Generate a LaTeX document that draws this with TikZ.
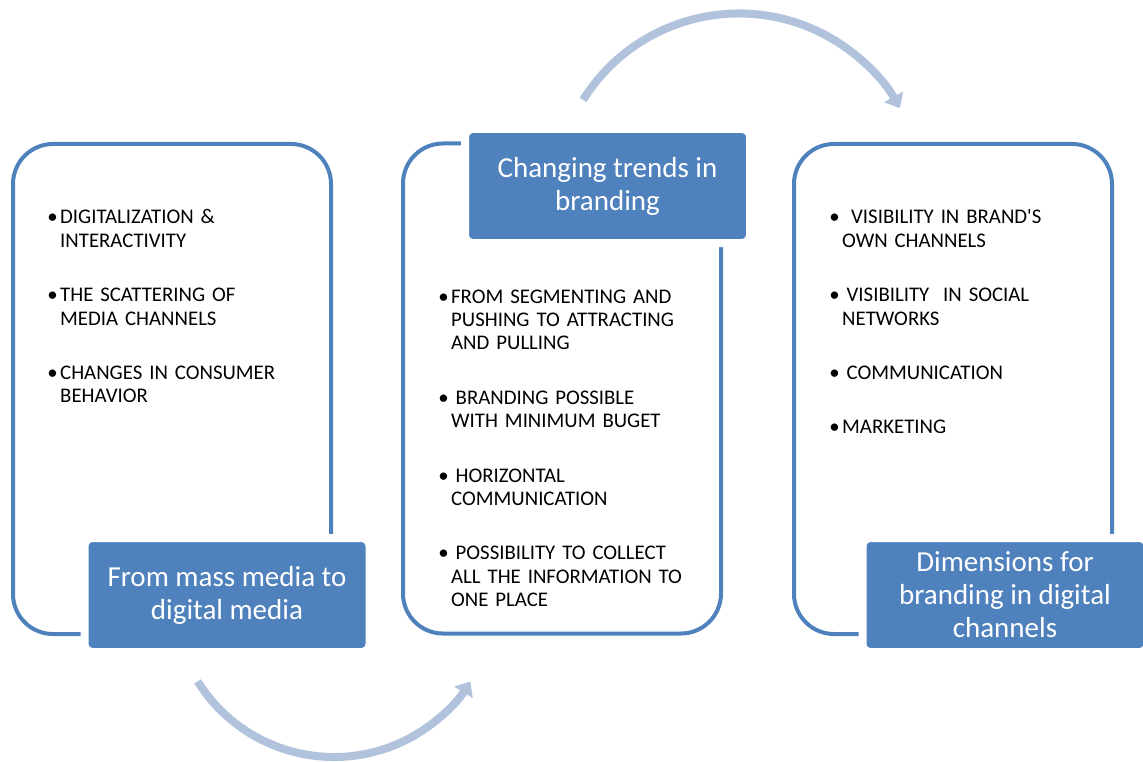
\documentclass[tikz,border=0pt]{standalone}
\usepackage{fontspec}
\setmainfont{Carlito}
\usepackage{tikz}
\usetikzlibrary{arrows.meta}

\definecolor{hdrblue}{RGB}{79,129,189}
\definecolor{arcblue}{RGB}{177,194,221}

\newcommand{\bul}[1]{\noindent\llap{\textbullet\hspace{2.5pt}}#1\par}

\tikzset{
	frame/.style={draw=hdrblue, line width=4pt, rounded corners=40pt, minimum width=318pt, minimum height=490pt},
	header/.style={fill=hdrblue, draw=white, line width=8pt, rounded corners=8pt, text=white, align=center,
		font=\fontsize{29}{33}\selectfont, minimum width=285pt, minimum height=114pt, inner sep=0pt},
	items/.style={anchor=base west, text width=275pt, align=left, inner sep=0pt,
		font=\fontsize{20.8}{23.4}\selectfont\setlength{\parskip}{31pt}},
	arcarrow/.style={arcblue, line width=8pt, -{Triangle[length=13pt, width=21pt]}}
}

\begin{document}
\begin{tikzpicture}[x=1pt, y=1pt]
		\useasboundingbox (0,0) rectangle (1143,-762);
		% outlines
		\node[frame] (leftframe) at (172,-389) {};
		\node[frame] (midframe) at (562,-388.5) {};
		\node[frame] (rightframe) at (953,-389) {};
		% bullet lists
		\node[items] (leftlist) at (60,-224) {%
			\bul{DIGITALIZATION \&\\INTERACTIVITY}
			\bul{THE SCATTERING OF\\MEDIA CHANNELS}
			\bul{CHANGES IN CONSUMER\\BEHAVIOR}};
		\node[items] (midlist) at (451,-303) {%
			\bul{FROM SEGMENTING AND\\PUSHING TO ATTRACTING\\AND PULLING}
			\bul{\hspace{4.5pt}BRANDING POSSIBLE\\WITH MINIMUM BUGET}
			\bul{\hspace{4.5pt}HORIZONTAL\\COMMUNICATION}
			\bul{\hspace{4.5pt}POSSIBILITY TO COLLECT\\ALL THE INFORMATION TO\\ONE PLACE}};
		\node[items] (rightlist) at (842,-224) {%
			\bul{\hspace{9pt}VISIBILITY IN BRAND\textquotesingle S\\OWN CHANNELS}
			\bul{\hspace{4.5pt}VISIBILITY\ \ IN SOCIAL\\NETWORKS}
			\bul{\hspace{4.5pt}COMMUNICATION}
			\bul{MARKETING}};
		% headers
		\node[header] (lefthead) at (227,-595) {From mass media to\\digital media};
		\node[header] (midhead) at (607.5,-186) {Changing trends in\\branding};
		\node[header] (righthead) at (1005,-595) {Dimensions for\\branding in digital\\channels};
		% curved arrows
		\coordinate (lowstart) at ([shift={(212:160.8)}]334,-596.2);
		\coordinate (highstart) at ([shift={(148:183.9)}]739,-197.4);
		\draw[arcarrow] (lowstart) arc[start angle=212, end angle=328, radius=160.8];
		\draw[arcarrow] (highstart) arc[start angle=148, end angle=29, radius=183.9];
	\end{tikzpicture}
\end{document}
